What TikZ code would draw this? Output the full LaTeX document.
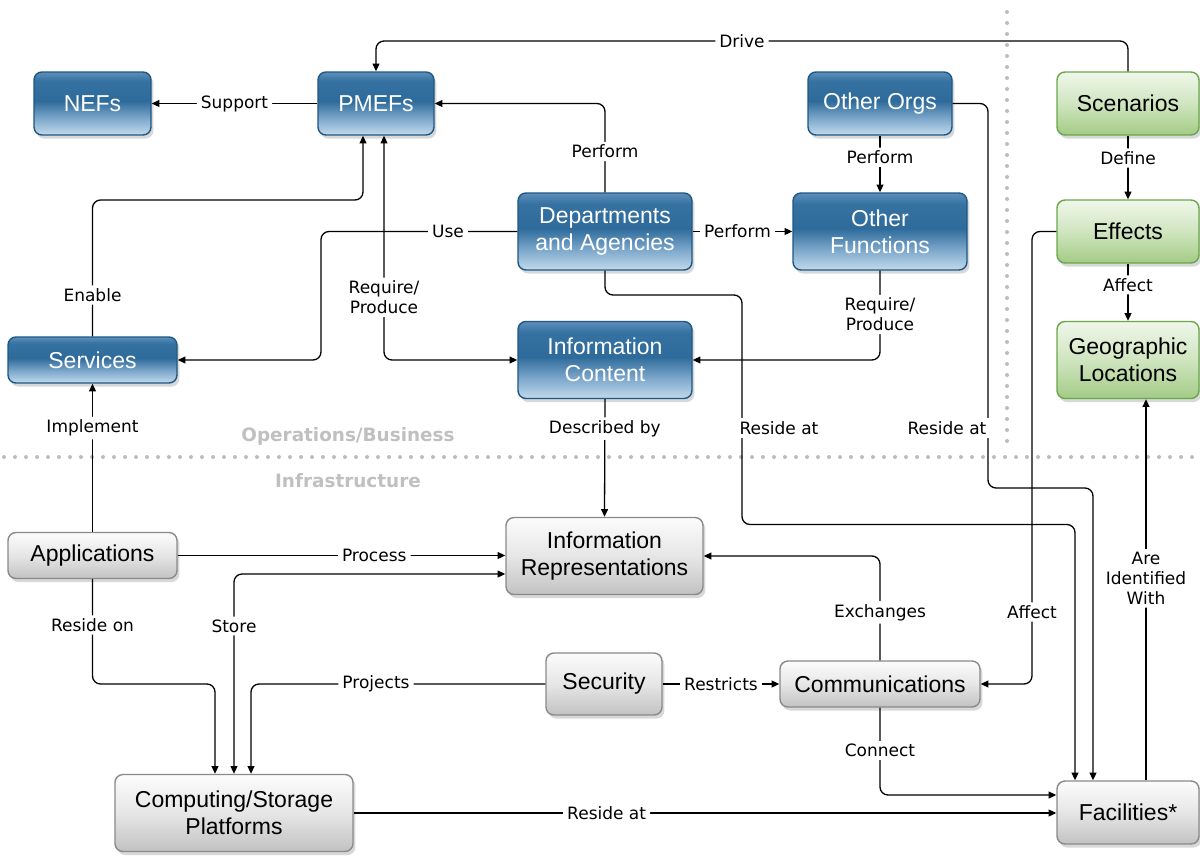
\documentclass[tikz,border=0pt]{standalone}
\usepackage{fontspec}
\setmainfont{Liberation Sans}
\newfontfamily\lblfont{DejaVu Sans}
\usetikzlibrary{arrows.meta,calc,shadows}
\definecolor{bT}{HTML}{5F8FBA}
\definecolor{bM2}{HTML}{3572A2}
\definecolor{bM}{HTML}{2E6B9B}
\definecolor{bL}{HTML}{7EA8CC}
\definecolor{bB}{HTML}{C2DAEC}
\definecolor{bBorder}{HTML}{1E5784}
\definecolor{gT}{HTML}{F0F7EA}
\definecolor{gM}{HTML}{CFE5BF}
\definecolor{gB}{HTML}{A3CB86}
\definecolor{gBorder}{HTML}{6BA64C}
\definecolor{yT}{HTML}{FCFCFC}
\definecolor{yM}{HTML}{E6E6E6}
\definecolor{yB}{HTML}{C2C2C2}
\definecolor{yBorder}{HTML}{8A8A8A}
\definecolor{dotc}{HTML}{BDBDBD}
\definecolor{sectc}{HTML}{C0C0C0}
\pgfdeclareverticalshading{blueshade}{100bp}{color(0bp)=(bB); color(25bp)=(bB); color(38bp)=(bL); color(52bp)=(bM); color(68bp)=(bM2); color(75bp)=(bT); color(100bp)=(bT)}
\pgfdeclareverticalshading{greenshade}{100bp}{color(0bp)=(gB); color(25bp)=(gB); color(50bp)=(gM); color(75bp)=(gT); color(100bp)=(gT)}
\pgfdeclareverticalshading{grayshade}{100bp}{color(0bp)=(yB); color(25bp)=(yB); color(50bp)=(yM); color(75bp)=(yT); color(100bp)=(yT)}
\tikzset{
  box/.style={rounded corners=4pt, align=center, inner sep=0pt, line width=0.7pt,
    font=\fontsize{11.5}{13.5}\selectfont,
    drop shadow={shadow xshift=1.2pt, shadow yshift=-1.8pt, opacity=0.3}},
  bluebox/.style={box, draw=bBorder, shade, shading=blueshade, text=white},
  greenbox/.style={box, draw=gBorder, shade, shading=greenshade, text=black},
  graybox/.style={box, draw=yBorder, shade, shading=grayshade, text=black},
  ln/.style={draw=black, line width=0.65pt, rounded corners=4pt},
  arr/.style={ln, -{Triangle[length=3.8pt,width=3.4pt]}},
  darr/.style={ln, {Triangle[length=3.8pt,width=3.4pt]}-{Triangle[length=3.8pt,width=3.4pt]}},
  lbl/.style={font=\lblfont\fontsize{8.5}{10}\selectfont, fill=white, inner xsep=2pt, inner ysep=1.5pt, align=center, text=black},
  sect/.style={font=\lblfont\bfseries\fontsize{9.2}{11}\selectfont, text=sectc, inner sep=0pt},
  dotline/.style={draw=dotc, line width=2pt, line cap=round, dash pattern=on 0pt off 5.5pt}
}
\begin{document}
\begin{tikzpicture}[x=0.5pt,y=-0.5pt]
\useasboundingbox[fill=white] (0,0) rectangle (1200,857);
% dividers
\draw[dotline] (4,457) -- (1200,457);
\draw[dotline] (1007,12) -- (1007,446);
\node[sect] (opsl) at (348,436) {Operations/Business};
\node[sect] (infl) at (348,481) {Infrastructure};
% nodes
\node[bluebox, minimum width=58.5pt, minimum height=31.5pt] (nefs) at (92.5,103.5) {NEFs};
\node[bluebox, minimum width=58pt, minimum height=31.5pt] (pmefs) at (376,103.5) {PMEFs};
\node[bluebox, minimum width=72pt, minimum height=31.5pt] (oorg) at (880,103.5) {Other Orgs};
\node[greenbox, minimum width=71pt, minimum height=31.5pt] (scen) at (1128,103.5) {Scenarios};
\node[bluebox, minimum width=87pt, minimum height=38.5pt] (dept) at (605,231.5) {Departments\\and Agencies};
\node[bluebox, minimum width=87pt, minimum height=38.5pt] (ofun) at (880,231.5) {Other\\Functions};
\node[greenbox, minimum width=71pt, minimum height=31.5pt] (eff) at (1128,231.5) {Effects};
\node[bluebox, minimum width=84.5pt, minimum height=23pt] (serv) at (92.5,360) {Services};
\node[bluebox, minimum width=87pt, minimum height=38.5pt] (ic) at (605,360) {Information\\Content};
\node[greenbox, minimum width=71pt, minimum height=38.5pt] (geo) at (1128,360) {Geographic\\Locations};
\node[graybox, minimum width=84.5pt, minimum height=23pt] (app) at (92.5,555.5) {Applications};
\node[graybox, minimum width=98.5pt, minimum height=38.5pt] (irep) at (604.5,556) {Information\\Representations};
\node[graybox, minimum width=58pt, minimum height=31pt] (sec) at (604,684) {Security};
\node[graybox, minimum width=100pt, minimum height=23pt] (comm) at (880,684) {Communications};
\node[graybox, minimum width=119pt, minimum height=38.5pt] (comp) at (234,813) {Computing/Storage\\Platforms};
\node[graybox, minimum width=71pt, minimum height=31.5pt] (fac) at (1128,812.5) {Facilities*};
% connectors
\draw[arr] (scen.north) |- (742,41) node[lbl]{Drive} -| (pmefs.north);
\draw[arr] (pmefs.west) -- (nefs.east) node[lbl,midway]{Support};
\draw[arr] (dept.north) |- (pmefs.east) node[lbl,pos=0.23]{Perform};
\draw[arr] (oorg.south) -- (ofun.north) node[lbl,pos=0.38]{Perform};
\draw[arr] (dept.east) -- (ofun.west) node[lbl,pos=0.45]{Perform};
\draw[arr] (dept.west) -- (448,231.5) node[lbl]{Use} -| (321,300) |- (serv.east);
\draw[arr] (serv.north) -- (92.5,295) node[lbl]{Enable} |- (363,200) -- ($(pmefs.south)+(-13,0)$);
\draw[darr] ($(pmefs.south)+(8,0)$) |- (ic.west) node[lbl,pos=0.36]{Require/\\Produce};
\draw[arr] (ofun.south) |- (ic.east) node[lbl,pos=0.245]{Require/\\Produce};
\draw[arr] (dept.south) |- (742,295) -- (742,428) |- (1075,524.5) -- ($(fac.north)+(-53,0)$);
\node[lbl] (lres1) at (779,428) {Reside at};
\draw[arr] (oorg.east) -| (988,488) -| ($(fac.north)+(-35,0)$);
\node[lbl] (lres2) at (947,428) {Reside at};
\draw[arr] (eff.west) -| (1032,612) node[lbl]{Affect} |- (comm.east);
\draw[arr] (eff.south) -- (geo.north) node[lbl,pos=0.37]{Affect};
\draw[arr] (scen.south) -- (eff.north) node[lbl,pos=0.35]{Define};
\draw[arr] ($(fac.north)+(18,0)$) -- ($(geo.south)+(18,0)$) node[lbl,pos=0.53]{Are\\Identified\\With};
\draw[arr] (ic.south) -- (irep.north) node[lbl,pos=0.25]{Described by};
\draw[arr] (app.north) -- (serv.south) node[lbl,pos=0.7]{Implement};
\draw[arr] (app.east) -- (irep.west |- app.east) node[lbl,pos=0.6]{Process};
\draw[darr] (comp.north) |- ($(irep.west)+(0,18)$) node[lbl,pos=0.37]{Store};
\draw[arr] (app.south) -- (92.5,625) node[lbl]{Reside on} |- (215,684) -- ($(comp.north)+(-19,0)$);
\draw[arr] (sec.west) -- (376,684) node[lbl]{Projects} -| ($(comp.north)+(17,0)$);
\draw[arr] (sec.east) -- (comm.west) node[lbl,midway]{Restricts};
\draw[arr] (comm.north) |- (irep.east) node[lbl,pos=0.23]{Exchanges};
\draw[arr] (comm.south) |- ($(fac.west)+(0,-17.5)$) node[lbl,pos=0.245]{Connect};
\draw[arr] (comp.east) -- (fac.west |- comp.east) node[lbl,pos=0.36]{Reside at};
\end{tikzpicture}
\end{document}
